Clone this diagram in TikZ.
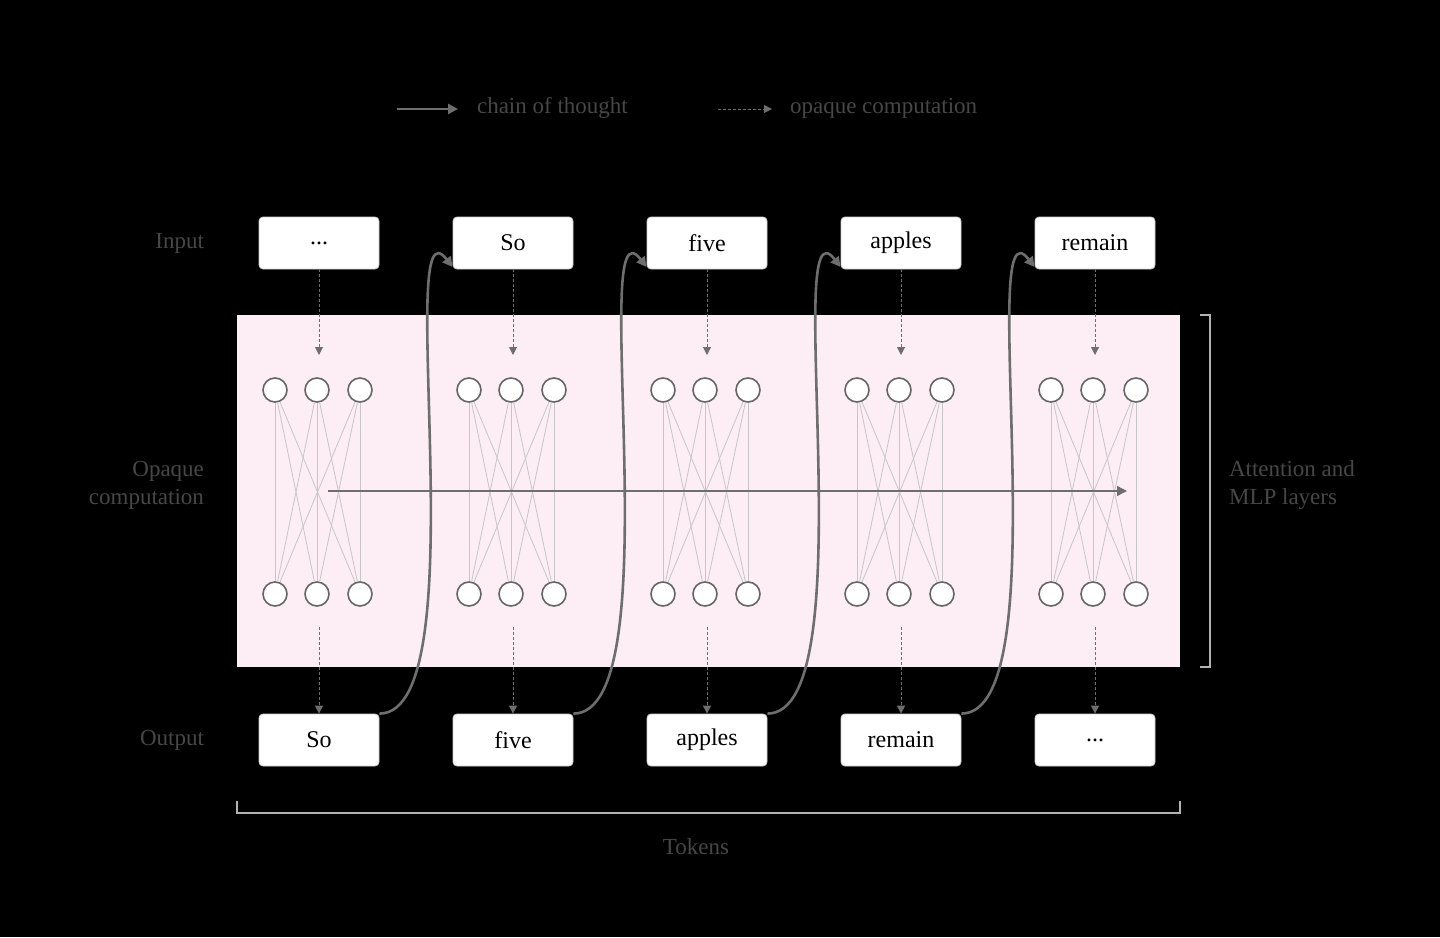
\documentclass[tikz,border=0pt]{standalone}
\usepackage{fontspec}
\setmainfont{Liberation Serif}
\usetikzlibrary{arrows.meta}
\definecolor{lbl}{HTML}{474747}
\definecolor{pinkbg}{HTML}{FCEEF4}
\definecolor{arr}{HTML}{6E6E6E}
\begin{document}
\begin{tikzpicture}[x=0.5pt,y=-0.5pt,
  tok/.style={draw=gray!40,fill=white,rounded corners=2pt,minimum width=60pt,minimum height=26pt,font=\fontsize{12}{14}\selectfont,text=black},
  neu/.style={circle,draw=gray!80!black,fill=white,line width=0.8pt,minimum size=12pt,inner sep=0pt},
  wire/.style={draw=gray!45,line width=0.4pt},
  op/.style={draw=arr,dash pattern=on 1.5pt off 1pt,line width=0.5pt,-{Triangle[length=4pt,width=4pt]}},
  cot/.style={draw=arr,line width=1.3pt,-{Triangle[length=5pt,width=5pt]}},
  lab/.style={text=lbl,font=\fontsize{11.5}{14}\selectfont}]
\fill[black] (0,0) rectangle (1440,937);
\useasboundingbox (0,0) rectangle (1440,937);
% legend
\coordinate (l1a) at (397,109); \coordinate (l1b) at (458,109);
\draw[cot] (l1a) -- (l1b);
\node[lab,anchor=west] (lg1) at (470,108) {chain of thought};
\coordinate (l2a) at (718,109); \coordinate (l2b) at (772,109);
\draw[op] (l2a) -- (l2b);
\node[lab,anchor=west] (lg2) at (783,108) {opaque computation};
% background
\fill[pinkbg] (237,315) rectangle (1180,667);
% labels
\node[lab,anchor=east] (linp) at (211,243) {Input};
\node[lab,anchor=east,align=right] (lop) at (211,485) {Opaque\\computation};
\node[lab,anchor=east] (lout) at (211,740) {Output};
\node[lab,anchor=west,align=left] (lat) at (1222,485) {Attention and\\MLP layers};
\node[lab] (ltok) at (696,847) {Tokens};
% brackets
\draw[gray!60,line width=0.6pt] (1200,315) -- (1210,315) -- (1210,667) -- (1200,667);
\draw[gray!60,line width=0.6pt] (237,801) -- (237,813) -- (1180,813) -- (1180,801);
% columns
\foreach \i/\x/\tin/\tout in {1/319/{...}/So,2/513/So/five,3/707/five/apples,4/901/apples/remain,5/1095/remain/{...}}{
  \node[tok] (in\i) at (\x,243) {\tin};
  \node[tok] (out\i) at (\x,740) {\tout};
  \foreach \k/\d in {1/-44,2/-2,3/41}{
    \node[neu] (t\i\k) at (\x+\d,390) {};
    \node[neu] (b\i\k) at (\x+\d,594) {};
  }
  \foreach \k in {1,2,3}{\foreach \m in {1,2,3}{\draw[wire] (t\i\k) -- (b\i\m);}}
  \coordinate (ia\i) at (\x,355); \coordinate (ob\i) at (\x,627);
  \draw[op] (in\i.south) -- (ia\i);
  \draw[op] (ob\i) -- (out\i.north);
}
\coordinate (hs) at (328,491); \coordinate (he) at (1127,491);
\draw[draw=arr,line width=0.7pt,-{Triangle[length=5pt,width=5pt]}] (hs) -- (he);
\foreach \i/\j in {1/2,2/3,3/4,4/5}{
  \draw[cot] (out\i.north east) .. controls ([xshift=50]out\i.north east) and ([xshift=-30,yshift=40]in\j.south west) .. ([yshift=-12]in\j.west);
}
\end{tikzpicture}
\end{document}
